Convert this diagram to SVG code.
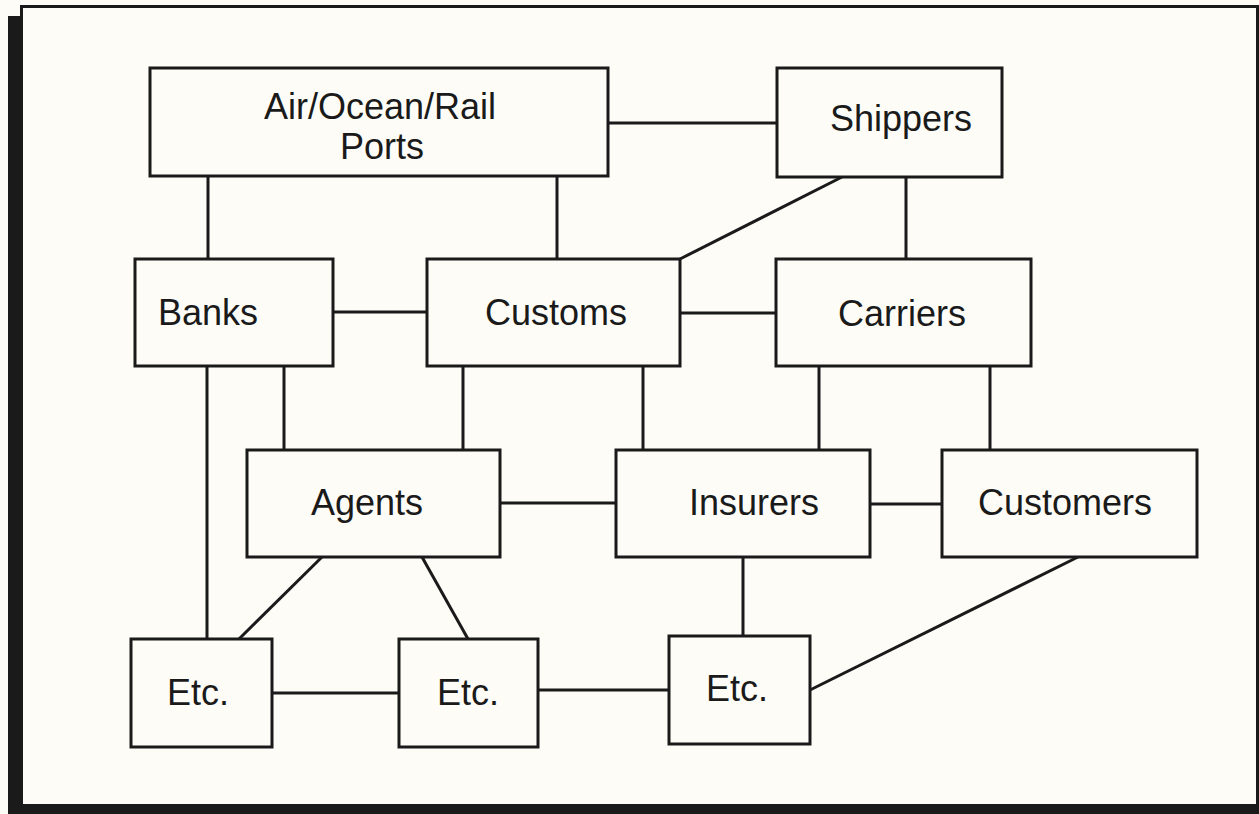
<svg xmlns="http://www.w3.org/2000/svg" width="1259" height="814" viewBox="0 0 1259 814">
<style>
.box{fill:#fdfcf7;stroke:#1a1a1a;stroke-width:3}
.lbl{font-family:"Liberation Sans",Arial,sans-serif;font-size:36px;fill:#1a1a1a;text-anchor:middle}
#connectors line{stroke:#1a1a1a;stroke-width:3;fill:none}
</style>
<rect x="0" y="0" width="1259" height="814" fill="#fdfcf7"/>
<g id="frame">
<rect x="8" y="16" width="14" height="798" fill="#1a1a1a"/>
<rect x="8" y="805" width="1251" height="9" fill="#1a1a1a"/>
<rect x="21.5" y="6.5" width="1236" height="799" fill="#fdfcf7" stroke="#1a1a1a" stroke-width="3"/>
</g>
<g id="connectors">
<line x1="608" y1="123" x2="777" y2="123"/>
<line x1="208" y1="176" x2="208" y2="259"/>
<line x1="557" y1="176" x2="557" y2="259"/>
<line x1="842" y1="177" x2="680" y2="259"/>
<line x1="906" y1="177" x2="906" y2="259"/>
<line x1="333" y1="312" x2="427" y2="312"/>
<line x1="680" y1="313" x2="776" y2="313"/>
<line x1="207" y1="366" x2="207" y2="639"/>
<line x1="284" y1="366" x2="284" y2="450"/>
<line x1="463" y1="366" x2="463" y2="450"/>
<line x1="643" y1="366" x2="643" y2="450"/>
<line x1="819" y1="366" x2="819" y2="450"/>
<line x1="990" y1="366" x2="990" y2="450"/>
<line x1="500" y1="503" x2="616" y2="503"/>
<line x1="870" y1="504" x2="942" y2="504"/>
<line x1="322" y1="557" x2="239" y2="639"/>
<line x1="422" y1="557" x2="468" y2="639"/>
<line x1="743" y1="557" x2="743" y2="636"/>
<line x1="1078" y1="557" x2="810" y2="690"/>
<line x1="272" y1="693" x2="399" y2="693"/>
<line x1="538" y1="690" x2="669" y2="690"/>
</g>
<g id="ports"><rect class="box" x="150" y="68" width="458" height="108"/><text class="lbl" x="380" y="119">Air/Ocean/Rail</text><text class="lbl" x="382" y="159">Ports</text></g>
<g id="shippers"><rect class="box" x="777" y="68" width="225" height="109"/><text class="lbl" x="901" y="131">Shippers</text></g>
<g id="banks"><rect class="box" x="135" y="259" width="198" height="107"/><text class="lbl" x="208" y="325">Banks</text></g>
<g id="customs"><rect class="box" x="427" y="259" width="253" height="107"/><text class="lbl" x="556" y="325">Customs</text></g>
<g id="carriers"><rect class="box" x="776" y="259" width="255" height="107"/><text class="lbl" x="902" y="326">Carriers</text></g>
<g id="agents"><rect class="box" x="247" y="450" width="253" height="107"/><text class="lbl" x="367" y="515">Agents</text></g>
<g id="insurers"><rect class="box" x="616" y="450" width="254" height="107"/><text class="lbl" x="754" y="515">Insurers</text></g>
<g id="customers"><rect class="box" x="942" y="450" width="255" height="107"/><text class="lbl" x="1065" y="515">Customers</text></g>
<g id="etc1"><rect class="box" x="131" y="639" width="141" height="108"/><text class="lbl" x="198" y="705">Etc.</text></g>
<g id="etc2"><rect class="box" x="399" y="639" width="139" height="108"/><text class="lbl" x="468" y="705">Etc.</text></g>
<g id="etc3"><rect class="box" x="669" y="636" width="141" height="108"/><text class="lbl" x="737" y="701">Etc.</text></g>
</svg>
